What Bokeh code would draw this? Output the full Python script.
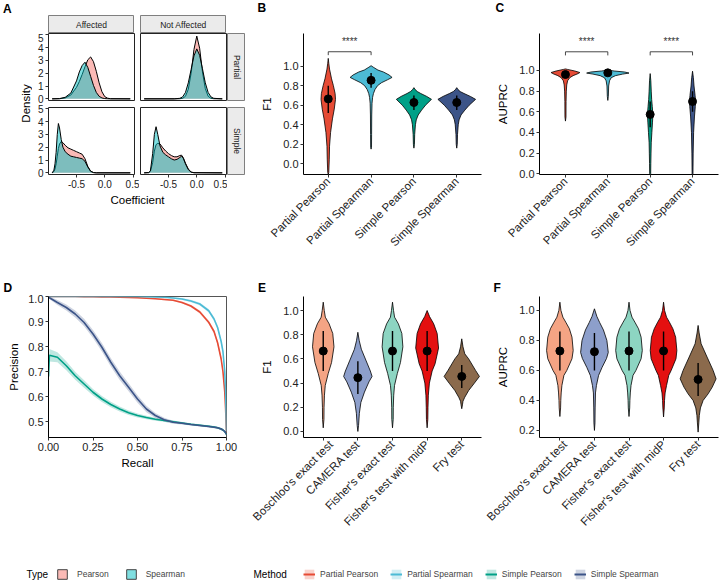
import math
from bokeh.plotting import figure
from bokeh.layouts import row, column, Spacer
from bokeh.models import Range1d, FixedTicker, Label, Legend, LegendItem, PrintfTickFormatter
from bokeh.embed import file_html
from bokeh.resources import INLINE

FONT = "Liberation Sans"

# ---------------- Panel A data (density of coefficients) ----------------
facet_cols = ["Affected", "Not Affected"]
facet_rows = ["Partial", "Simple"]
type_names = ["Pearson", "Spearman"]
type_colors = ["#F8766D", "#00BFC4"]
dens_xticks = [-0.5, 0.0, 0.5]
dens_yticks = [0, 1, 2, 3, 4, 5]

a_aff_partial_x = [-0.93, -0.8, -0.7, -0.6, -0.5, -0.45, -0.4, -0.35, -0.3, -0.25, -0.2, -0.15, -0.1, -0.05, 0.0, 0.05, 0.1, 0.45]
a_aff_partial_pearson = [0, 0.01, 0.07, 0.3, 0.9, 1.35, 1.9, 2.5, 3.05, 3.27, 2.9, 2.15, 1.25, 0.55, 0.17, 0.05, 0.01, 0]
a_aff_partial_spearman = [0, 0.02, 0.12, 0.45, 1.4, 2.1, 2.6, 2.86, 2.45, 1.75, 1.05, 0.5, 0.2, 0.07, 0.02, 0.005, 0, 0]

a_not_partial_x = [-0.93, -0.4, -0.3, -0.25, -0.2, -0.15, -0.1, -0.05, 0.0, 0.05, 0.1, 0.15, 0.2, 0.25, 0.3, 0.45]
a_not_partial_pearson = [0, 0, 0.01, 0.04, 0.2, 0.75, 2.0, 3.85, 4.9, 3.95, 2.1, 0.8, 0.2, 0.04, 0.01, 0]
a_not_partial_spearman = [0, 0, 0.04, 0.15, 0.5, 1.25, 2.3, 3.35, 3.9, 3.4, 2.35, 1.25, 0.5, 0.15, 0.04, 0]

a_aff_simple_x = [-0.93, -0.9, -0.88, -0.86, -0.84, -0.82, -0.8, -0.77, -0.74, -0.7, -0.65, -0.6, -0.55, -0.5, -0.45, -0.4, -0.35, -0.3, -0.25, -0.2, -0.15, 0.45]
a_aff_simple_pearson = [0, 0.1, 0.3, 0.7, 1.3, 1.9, 2.25, 2.45, 2.35, 2.15, 1.95, 1.85, 1.75, 1.65, 1.55, 1.45, 1.1, 0.5, 0.13, 0.02, 0, 0]
a_aff_simple_spearman = [0, 0.2, 0.7, 1.6, 3.0, 3.85, 3.5, 2.6, 2.0, 1.65, 1.45, 1.3, 1.25, 1.2, 1.15, 1.1, 0.9, 0.45, 0.12, 0.02, 0, 0]

a_not_simple_x = [-0.93, -0.85, -0.82, -0.78, -0.75, -0.72, -0.69, -0.65, -0.6, -0.55, -0.5, -0.45, -0.4, -0.35, -0.3, -0.27, -0.24, -0.2, -0.15, -0.1, -0.05, 0.45]
a_not_simple_pearson = [0, 0.02, 0.12, 0.8, 1.7, 2.2, 2.3, 2.25, 1.95, 1.7, 1.5, 1.35, 1.25, 1.25, 1.35, 1.38, 1.2, 0.75, 0.3, 0.06, 0.01, 0]
a_not_simple_spearman = [0, 0.02, 0.15, 1.5, 3.0, 3.6, 3.0, 2.1, 1.6, 1.4, 1.25, 1.1, 1.0, 1.05, 1.2, 1.3, 1.15, 0.7, 0.25, 0.05, 0.01, 0]

# ---------------- Panels B / C data (violins) ----------------
methods4 = ["Partial Pearson", "Partial Spearman", "Simple Pearson", "Simple Spearman"]
colors4 = ["#E64B35", "#4DBBD5", "#00A087", "#3C5488"]

b_levels = [
    [-0.11, -0.09, 0.04, 0.18, 0.32, 0.46, 0.56, 0.66, 0.72, 0.80, 0.87, 0.97, 1.03, 1.08],
    [0.15, 0.17, 0.30, 0.50, 0.62, 0.68, 0.72, 0.76, 0.80, 0.83, 0.86, 0.885, 0.91, 0.94, 0.96, 0.99, 1.005],
    [0.16, 0.2, 0.3, 0.4, 0.45, 0.5, 0.55, 0.6, 0.66, 0.69, 0.72, 0.74, 0.76, 0.78],
    [0.16, 0.2, 0.3, 0.4, 0.45, 0.5, 0.55, 0.6, 0.66, 0.69, 0.72, 0.74, 0.76, 0.78],
]
b_halfw = [
    [0, 0.012, 0.023, 0.030, 0.054, 0.098, 0.14, 0.169, 0.16, 0.12, 0.077, 0.030, 0.012, 0],
    [0, 0.01, 0.012, 0.015, 0.022, 0.035, 0.055, 0.09, 0.15, 0.24, 0.38, 0.49, 0.42, 0.29, 0.16, 0.05, 0],
    [0, 0.012, 0.018, 0.035, 0.055, 0.10, 0.18, 0.27, 0.41, 0.30, 0.16, 0.08, 0.03, 0],
    [0, 0.012, 0.018, 0.035, 0.055, 0.10, 0.19, 0.29, 0.44, 0.32, 0.17, 0.08, 0.03, 0],
]
b_mean = [0.665, 0.855, 0.628, 0.628]
b_lo = [0.52, 0.78, 0.55, 0.55]
b_hi = [0.80, 0.93, 0.70, 0.70]
b_pairs = [(1, 2)]
b_signif = ["****"]

c_levels = [
    [0.51, 0.55, 0.70, 0.80, 0.86, 0.90, 0.93, 0.95, 0.97, 0.98, 0.995, 1.01, 1.015],
    [0.71, 0.75, 0.85, 0.90, 0.93, 0.95, 0.965, 0.975, 0.985, 0.995, 1.003],
    [-0.005, 0.0, 0.1, 0.2, 0.3, 0.4, 0.5, 0.575, 0.65, 0.72, 0.8, 0.9, 0.97],
    [-0.005, 0.0, 0.2, 0.4, 0.55, 0.65, 0.70, 0.76, 0.85, 0.93, 0.993],
]
c_halfw = [
    [0, 0.012, 0.014, 0.02, 0.03, 0.05, 0.10, 0.18, 0.30, 0.34, 0.22, 0.05, 0],
    [0, 0.012, 0.02, 0.04, 0.08, 0.18, 0.35, 0.50, 0.40, 0.15, 0],
    [0, 0.012, 0.015, 0.02, 0.025, 0.04, 0.055, 0.064, 0.05, 0.035, 0.025, 0.015, 0],
    [0, 0.01, 0.015, 0.025, 0.045, 0.065, 0.072, 0.06, 0.035, 0.02, 0],
]
c_mean = [0.961, 0.977, 0.575, 0.70]
c_lo = [0.93, 0.95, 0.45, 0.60]
c_hi = [0.99, 1.0, 0.70, 0.80]
c_pairs = [(1, 2), (3, 4)]
c_signif = ["****", "****"]

# ---------------- Panel D data (precision-recall) ----------------
d_recall = [0, 0.005, 0.05, 0.1, 0.15, 0.2, 0.25, 0.3, 0.35, 0.4, 0.45, 0.5, 0.55, 0.6, 0.65,
            0.7, 0.75, 0.8, 0.85, 0.9, 0.93, 0.95, 0.97, 0.98, 0.99, 0.995, 1.0]
d_partial_pearson = [1.0, 1.0, 1.0, 1.0, 1.0, 0.999, 0.999, 0.998, 0.998, 0.997, 0.996, 0.995, 0.993, 0.991, 0.988,
                     0.985, 0.976, 0.962, 0.938, 0.897, 0.86, 0.815, 0.75, 0.70, 0.62, 0.55, 0.455]
d_partial_spearman = [1.0, 1.0, 1.0, 1.0, 1.0, 1.0, 1.0, 1.0, 1.0, 1.0, 1.0, 1.0, 0.999, 0.998, 0.997,
                      0.994, 0.99, 0.982, 0.97, 0.943, 0.91, 0.876, 0.82, 0.78, 0.70, 0.62, 0.46]
d_simple_pearson = [0.68, 0.765, 0.757, 0.723, 0.683, 0.65, 0.617, 0.59, 0.568, 0.55, 0.535, 0.524, 0.516, 0.509, 0.504,
                    0.499, 0.494, 0.489, 0.485, 0.481, 0.478, 0.475, 0.47, 0.466, 0.46, 0.455, 0.448]
d_simple_spearman = [1.0, 0.995, 0.976, 0.956, 0.93, 0.896, 0.85, 0.797, 0.737, 0.683, 0.637, 0.59, 0.55, 0.524, 0.507,
                     0.497, 0.493, 0.488, 0.484, 0.48, 0.477, 0.475, 0.47, 0.466, 0.46, 0.455, 0.448]
d_band_partial = [0.002, 0.002, 0.002, 0.002, 0.002, 0.002, 0.002, 0.002, 0.002, 0.002, 0.002, 0.002, 0.002, 0.002, 0.003,
                  0.003, 0.004, 0.005, 0.006, 0.007, 0.008, 0.009, 0.01, 0.01, 0.012, 0.012, 0.01]
d_band_simple_pearson = [0.02, 0.025, 0.02, 0.018, 0.016, 0.015, 0.013, 0.012, 0.011, 0.01, 0.009, 0.008, 0.007, 0.006, 0.005,
                         0.005, 0.004, 0.004, 0.004, 0.004, 0.004, 0.004, 0.004, 0.004, 0.004, 0.004, 0.004]
d_band_simple_spearman = [0.002, 0.005, 0.01, 0.012, 0.014, 0.015, 0.016, 0.017, 0.017, 0.017, 0.016, 0.015, 0.013, 0.01, 0.008,
                          0.006, 0.005, 0.004, 0.004, 0.004, 0.004, 0.004, 0.004, 0.004, 0.004, 0.004, 0.004]
d_xticks = [0, 0.25, 0.5, 0.75, 1.0]
d_yticks = [0.5, 0.6, 0.7, 0.8, 0.9, 1.0]

# ---------------- Panels E / F data (violins) ----------------
tests5 = ["Boschloo's exact test", "CAMERA test", "Fisher's exact test", "Fisher's test with midP", "Fry test"]
colors5 = ["#F4A484", "#8D9FCB", "#8DD5C2", "#E41010", "#8B6A4C"]

e_levels = [
    [0.03, 0.1, 0.2, 0.3, 0.38, 0.48, 0.57, 0.7, 0.81, 0.89, 0.945, 1.0, 1.069],
    [0.0, 0.05, 0.15, 0.24, 0.325, 0.41, 0.455, 0.5, 0.59, 0.68, 0.75, 0.82],
    [0.03, 0.1, 0.2, 0.3, 0.38, 0.48, 0.57, 0.7, 0.81, 0.89, 0.945, 1.0, 1.069],
    [0.03, 0.1, 0.2, 0.3, 0.4, 0.5, 0.56, 0.69, 0.81, 0.89, 0.95, 1.0],
    [0.188, 0.22, 0.25, 0.283, 0.339, 0.394, 0.455, 0.504, 0.6, 0.642, 0.7, 0.766],
]
e_halfw = [
    [0, 0.02, 0.023, 0.035, 0.058, 0.145, 0.24, 0.31, 0.275, 0.17, 0.06, 0.03, 0],
    [0, 0.02, 0.043, 0.087, 0.19, 0.32, 0.41, 0.36, 0.23, 0.10, 0.04, 0],
    [0, 0.02, 0.023, 0.035, 0.058, 0.14, 0.23, 0.30, 0.27, 0.17, 0.06, 0.03, 0],
    [0, 0.02, 0.025, 0.035, 0.066, 0.145, 0.23, 0.33, 0.29, 0.19, 0.07, 0],
    [0, 0.02, 0.035, 0.087, 0.20, 0.35, 0.51, 0.40, 0.20, 0.087, 0.035, 0],
]
e_mean = [0.665, 0.445, 0.665, 0.665, 0.455]
e_lo = [0.50, 0.31, 0.50, 0.50, 0.36]
e_hi = [0.83, 0.58, 0.83, 0.83, 0.55]

f_levels = [
    [0.293, 0.35, 0.4, 0.45, 0.5, 0.567, 0.6, 0.678, 0.733, 0.822, 0.878, 0.922, 0.955, 1.0, 1.055],
    [0.2, 0.25, 0.35, 0.45, 0.5, 0.567, 0.62, 0.68, 0.72, 0.8, 0.87, 0.92, 0.96, 1.011],
    [0.293, 0.35, 0.4, 0.45, 0.5, 0.567, 0.6, 0.678, 0.733, 0.822, 0.878, 0.922, 0.955, 1.0, 1.055],
    [0.29, 0.35, 0.4, 0.45, 0.5, 0.567, 0.6, 0.678, 0.733, 0.822, 0.878, 0.922, 0.955, 1.0, 1.055],
    [0.189, 0.25, 0.3, 0.35, 0.4, 0.444, 0.489, 0.544, 0.6, 0.689, 0.778, 0.85, 0.9],
]
f_halfw = [
    [0, 0.02, 0.026, 0.038, 0.058, 0.116, 0.20, 0.35, 0.385, 0.35, 0.275, 0.17, 0.087, 0.03, 0],
    [0, 0.015, 0.02, 0.03, 0.058, 0.12, 0.22, 0.35, 0.40, 0.36, 0.26, 0.15, 0.07, 0],
    [0, 0.02, 0.026, 0.038, 0.058, 0.116, 0.20, 0.35, 0.385, 0.35, 0.275, 0.17, 0.087, 0.03, 0],
    [0, 0.02, 0.028, 0.045, 0.087, 0.15, 0.22, 0.36, 0.385, 0.35, 0.27, 0.17, 0.087, 0.03, 0],
    [0, 0.02, 0.035, 0.067, 0.145, 0.29, 0.41, 0.52, 0.435, 0.26, 0.087, 0.03, 0],
]
f_mean = [0.73, 0.725, 0.73, 0.73, 0.54]
f_lo = [0.60, 0.60, 0.60, 0.60, 0.43]
f_hi = [0.86, 0.85, 0.86, 0.86, 0.65]

vio_yticks_ef = [0.0, 0.2, 0.4, 0.6, 0.8, 1.0]
vio_yticks_f = [0.2, 0.4, 0.6, 0.8, 1.0]


# ======================= helpers =======================
def base(w, h, l, r, t, b, xr, yr, xaxis=True, yaxis=True):
    p = figure(width=w, height=h, x_range=xr, y_range=yr, output_backend="svg",
               toolbar_location=None,
               x_axis_location="below" if xaxis else None,
               y_axis_location="left" if yaxis else None,
               min_border_left=l, min_border_right=r, min_border_top=t, min_border_bottom=b)
    p.frame_align = False
    p.grid.visible = False
    p.outline_line_color = None
    p.background_fill_color = "white"
    p.border_fill_color = "white"
    return p


def style_axis(ax, fs=11):
    ax.axis_line_color = "black"
    ax.axis_line_width = 1
    ax.major_tick_line_color = "#333333"
    ax.major_tick_out = 3
    ax.major_tick_in = 0
    ax.minor_tick_line_color = None
    ax.major_label_text_font = FONT
    ax.major_label_text_font_size = f"{fs}px"
    ax.major_label_text_color = "#222222"
    ax.major_label_standoff = 2
    ax.axis_label_text_font = FONT
    ax.axis_label_text_font_style = "normal"
    ax.axis_label_text_font_size = "11.5px"
    ax.axis_label_text_color = "black"


def text_fig(w, h):
    # a blank canvas whose data space equals its pixel space (y measured upward)
    p = figure(width=w, height=h, x_range=Range1d(0, w), y_range=Range1d(0, h), output_backend="svg",
               toolbar_location=None, x_axis_location=None, y_axis_location=None,
               min_border_left=0, min_border_right=0, min_border_top=0, min_border_bottom=0)
    p.frame_align = False
    p.grid.visible = False
    p.outline_line_color = None
    p.border_fill_color = "white"
    p.background_fill_color = "white"
    return p


def put_text(p, px, py, text, size, bold=False, align="left", angle=0.0, color="black"):
    # px, py measured from the top-left corner of a text_fig
    h = p.y_range.end
    p.add_layout(Label(x=px, y=h - py, text=text, text_font=FONT, text_font_size=f"{size}px",
                       text_font_style="bold" if bold else "normal", text_align=align,
                       text_baseline="middle", angle=angle, text_color=color))


def header(w, h, px, py, letter):
    p = text_fig(w, h)
    put_text(p, px, py, letter, 12, bold=True)
    return p


def strip(w, h, t, b, text, angle=0.0):
    p = figure(width=w, height=h, x_range=Range1d(0, 1), y_range=Range1d(0, 1), output_backend="svg",
               toolbar_location=None, x_axis_location=None, y_axis_location=None,
               min_border_left=0, min_border_right=0, min_border_top=t, min_border_bottom=b)
    p.frame_align = False
    p.grid.visible = False
    p.background_fill_color = "#EBEBEB"
    p.border_fill_color = "white"
    p.outline_line_color = "#7F7F7F"
    p.outline_line_width = 1
    p.add_layout(Label(x=0.5, y=0.5, text=text, text_font=FONT, text_font_size="8.5px",
                       text_align="center", text_baseline="middle", angle=angle, text_color="#1A1A1A"))
    return p


def facet(w, h, l, r, t, b, xs, yp, ys, show_x, show_y):
    p = base(w, h, l, r, t, b, Range1d(-0.995, 0.525), Range1d(-0.13, 5.1), show_x, show_y)
    p.outline_line_color = "#222222"
    p.outline_line_width = 1
    for yv, col in ((yp, type_colors[0]), (ys, type_colors[1])):
        p.varea(x=xs, y1=0, y2=yv, fill_color=col, fill_alpha=0.5)
        p.line(xs, yv, line_color="black", line_width=1)
    if show_x:
        ax = p.xaxis[0]
        style_axis(ax, 10)
        ax.axis_line_color = None
        ax.ticker = FixedTicker(ticks=dens_xticks)
        ax.formatter = PrintfTickFormatter(format="%.1f")
    if show_y:
        ax = p.yaxis[0]
        style_axis(ax, 10)
        ax.axis_line_color = None
        ax.ticker = FixedTicker(ticks=dens_yticks)
        ax.formatter = PrintfTickFormatter(format="%d")
    return p


def violin_fig(w, h, l, r, t, b, xr, yr, names, colors, levels, halfw, mean, lo, hi, yticks, ylabel):
    p = base(w, h, l, r, t, b, xr, yr)
    for i, (lv, hw) in enumerate(zip(levels, halfw)):
        c = i + 1
        xs = [c + v for v in hw] + [c - v for v in reversed(hw)]
        ys = list(lv) + list(reversed(lv))
        p.patch(xs, ys, fill_color=colors[i], line_color="black", line_width=0.8)
    xc = list(range(1, len(names) + 1))
    p.segment(x0=xc, y0=lo, x1=xc, y1=hi, line_color="black", line_width=1.4)
    p.scatter(xc, mean, size=8, fill_color="black", line_color="black")
    xa = p.xaxis[0]
    style_axis(xa, 11.5)
    xa.ticker = FixedTicker(ticks=xc)
    xa.major_label_overrides = {i + 1: n for i, n in enumerate(names)}
    xa.major_label_orientation = math.pi / 4
    ya = p.yaxis[0]
    style_axis(ya, 11)
    ya.ticker = FixedTicker(ticks=yticks)
    ya.formatter = PrintfTickFormatter(format="%.1f")
    ya.axis_label = ylabel
    ya.axis_label_standoff = 7
    return p


def add_brackets(p, pairs, labels, ybar, tip, ystar):
    for (a, bb), lab in zip(pairs, labels):
        p.line([a, a, bb, bb], [ybar - tip, ybar, ybar, ybar - tip], line_color="#333333", line_width=0.9)
        p.add_layout(Label(x=(a + bb) / 2, y=ystar, text=lab, text_font=FONT, text_font_size="10px",
                           text_align="center", text_baseline="middle", text_color="#333333"))


# ======================= Panel A =======================
dens_fig = text_fig(32, 272)
put_text(dens_fig, 2.5, 8, "A", 12, bold=True)
put_text(dens_fig, 25, 103, "Density", 11.5, align="center", angle=math.pi / 2)

strips_row = row(Spacer(width=16, height=18), strip(86, 18, 0, 0, facet_cols[0]), Spacer(width=6, height=18),
                 strip(86, 18, 0, 0, facet_cols[1]), Spacer(width=24, height=18))
TL = facet(105, 71, 16, 3, 0, 4, a_aff_partial_x, a_aff_partial_pearson, a_aff_partial_spearman, False, True)
TR = facet(90, 71, 3, 1, 0, 4, a_not_partial_x, a_not_partial_pearson, a_not_partial_spearman, False, False)
SP = strip(18, 71, 0, 4, facet_rows[0], angle=-math.pi / 2)
BL = facet(107, 88, 16, 5, 3, 18, a_aff_simple_x, a_aff_simple_pearson, a_aff_simple_spearman, True, True)
BR = facet(88, 88, 1, 1, 3, 18, a_not_simple_x, a_not_simple_pearson, a_not_simple_spearman, True, False)
SS = strip(18, 88, 3, 18, facet_rows[1], angle=-math.pi / 2)
coef_fig = text_fig(218, 80)
put_text(coef_fig, 105, 7, "Coefficient", 11.5, align="center")

A_right = column(Spacer(width=218, height=15), strips_row,
                 row(TL, TR, SP, Spacer(width=5, height=71)),
                 row(BL, BR, SS, Spacer(width=5, height=88)),
                 coef_fig)
A_block = row(dens_fig, A_right)

# ======================= Panel B =======================
B = violin_fig(234, 256, 53, 3, 17, 98, Range1d(0.422, 4.578), Range1d(-0.11, 1.335),
               methods4, colors4, b_levels, b_halfw, b_mean, b_lo, b_hi, vio_yticks_ef, "F1")
add_brackets(B, b_pairs, b_signif, 1.148, 0.035, 1.255)
B_col = column(header(234, 16, 7, 7.5, "B"), B)

# ======================= Panel C =======================
C = violin_fig(236, 256, 55, 2, 17, 98, Range1d(0.387, 4.613), Range1d(-0.007, 1.358),
               methods4, colors4, c_levels, c_halfw, c_mean, c_lo, c_hi, vio_yticks_ef, "AUPRC")
add_brackets(C, c_pairs, c_signif, 1.181, 0.035, 1.278)
C_col = column(header(236, 16, 11, 7.5, "C"), C)

# ======================= Panel D =======================
D = base(250, 246, 48, 24, 2, 103, Range1d(0, 1), Range1d(0.436, 1.0))
D.outline_line_color = "#555555"
D.outline_line_width = 1
d_series = [d_partial_pearson, d_partial_spearman, d_simple_pearson, d_simple_spearman]
d_bands = [d_band_partial, d_band_partial, d_band_simple_pearson, d_band_simple_spearman]
for ys, bd, col in zip(d_series, d_bands, colors4):
    D.varea(x=d_recall, y1=[a - e for a, e in zip(ys, bd)], y2=[a + e for a, e in zip(ys, bd)],
            fill_color=col, fill_alpha=0.25)
for ys, col in zip(d_series, colors4):
    D.line(d_recall, ys, line_color=col, line_width=1.6)
style_axis(D.xaxis[0])
style_axis(D.yaxis[0])
D.xaxis[0].ticker = FixedTicker(ticks=d_xticks)
D.xaxis[0].formatter = PrintfTickFormatter(format="%.2f")
D.xaxis[0].axis_label = "Recall"
D.xaxis[0].axis_label_standoff = 3
D.yaxis[0].ticker = FixedTicker(ticks=d_yticks)
D.yaxis[0].formatter = PrintfTickFormatter(format="%.1f")
D.yaxis[0].axis_label = "Precision"
D.yaxis[0].axis_label_standoff = 5
D_col = column(header(250, 22, 3, 15, "D"), D)

# ======================= Panel E =======================
E = violin_fig(234, 246, 53, 3, 2, 103, Range1d(0.43, 5.57), Range1d(-0.05, 1.116),
               tests5, colors5, e_levels, e_halfw, e_mean, e_lo, e_hi, vio_yticks_ef, "F1")
E_col = column(header(234, 22, 7.5, 15.5, "E"), E)

# ======================= Panel F =======================
F = violin_fig(236, 246, 55, 2, 2, 103, Range1d(0.41, 5.59), Range1d(0.153, 1.093),
               tests5, colors5, f_levels, f_halfw, f_mean, f_lo, f_hi, vio_yticks_f, "AUPRC")
F_col = column(header(236, 22, 9, 15, "F"), F)

# ======================= Legends =======================
LG = text_fig(720, 46)
put_text(LG, 26, 34, "Type", 10)
put_text(LG, 253, 34, "Method", 10)
# legend key renderers: one off-canvas point each, so only the legend shows them
type_r = [LG.quad(left=[-60], right=[-50], top=[-50], bottom=[-60], fill_color=c, fill_alpha=0.5,
                  line_color="#444444", line_width=1) for c in type_colors]
leg_t = Legend(items=[LegendItem(label=n, renderers=[r]) for n, r in zip(type_names, type_r)],
               location=(56, 6), orientation="horizontal")
meth_items = []
for n, c in zip(methods4, colors4):
    rq = LG.quad(left=[-60], right=[-50], top=[-50], bottom=[-60], fill_color=c, fill_alpha=0.25, line_color=None)
    rl = LG.line(x=[-60, -50], y=[-55, -55], line_color=c, line_width=2)
    meth_items.append(LegendItem(label=n, renderers=[rq, rl]))
leg_m = Legend(items=meth_items, location=(303, 6), orientation="horizontal")
for lg in (leg_t, leg_m):
    lg.glyph_width = 12
    lg.glyph_height = 12
    lg.label_height = 12
    lg.label_text_font = FONT
    lg.label_text_font_size = "8.5px"
    lg.label_text_baseline = "middle"
    lg.padding = 0
    lg.margin = 0
    lg.border_line_color = None
    lg.background_fill_alpha = 0
leg_t.label_standoff = 9
leg_t.spacing = 16
leg_m.label_standoff = 5
leg_m.spacing = 12
LG.add_layout(leg_t)
LG.add_layout(leg_m)

# ======================= Layout =======================
layout = column(row(A_block, B_col, C_col), row(D_col, E_col, F_col), LG)

open("out.html", "w").write(file_html(layout, INLINE))
